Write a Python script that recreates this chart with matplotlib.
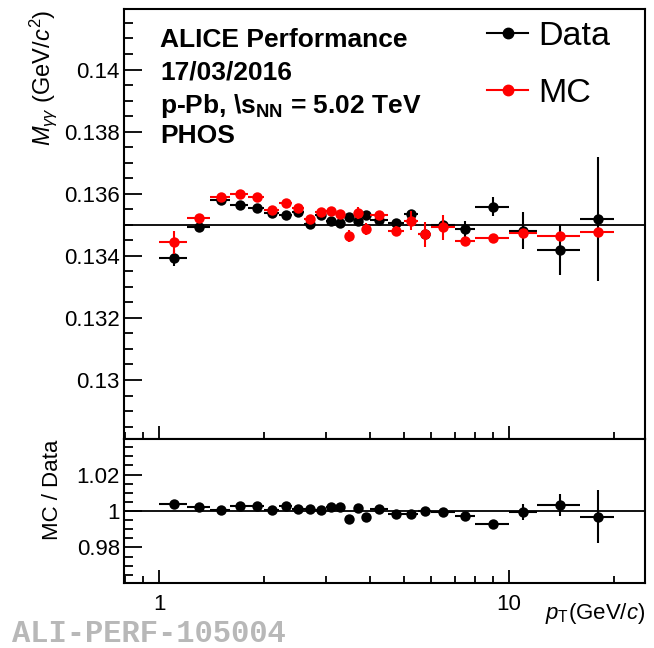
import numpy as np
import matplotlib
matplotlib.use("Agg")
import matplotlib.pyplot as plt
from matplotlib.ticker import MultipleLocator, FormatStrFormatter, LogLocator, NullFormatter, FixedLocator
from matplotlib.lines import Line2D

plt.rcParams['font.family'] = ['Liberation Sans', 'DejaVu Sans']
plt.rcParams['mathtext.fontset'] = 'custom'
plt.rcParams['mathtext.rm'] = 'Liberation Sans'
plt.rcParams['mathtext.it'] = 'Liberation Sans:italic'
plt.rcParams['mathtext.bf'] = 'Liberation Sans:bold'

# pT bins (GeV/c)
pt_lo = [1.0, 1.2, 1.4, 1.6, 1.8, 2.0, 2.2, 2.4, 2.6, 2.8, 3.0, 3.2, 3.4, 3.6, 3.8,
         4.0, 4.5, 5.0, 5.5, 6.0, 7.0, 8.0, 10.0, 12.0, 16.0]
pt_hi = [1.2, 1.4, 1.6, 1.8, 2.0, 2.2, 2.4, 2.6, 2.8, 3.0, 3.2, 3.4, 3.6, 3.8, 4.0,
         4.5, 5.0, 5.5, 6.0, 7.0, 8.0, 10.0, 12.0, 16.0, 20.0]

# peak position, data
data_val = [0.13393, 0.13494, 0.13580, 0.13565, 0.13553, 0.13539, 0.13531, 0.13540,
            0.13502, 0.13531, 0.13513, 0.13505, 0.13524, 0.13513, 0.13531, 0.13515,
            0.13505, 0.13534, 0.13469, 0.13499, 0.13486, 0.13558, 0.13481, 0.13418,
            0.13518]
data_err = [0.00027, 0.00008, 0.00005, 0.00005, 0.00005, 0.00005, 0.00005, 0.00006,
            0.00006, 0.00006, 0.00007, 0.00007, 0.00008, 0.00008, 0.00009, 0.00008,
            0.00010, 0.00012, 0.00012, 0.00012, 0.00025, 0.00030, 0.00060, 0.00080,
            0.00200]

# peak position, MC
mc_val = [0.13443, 0.13521, 0.13588, 0.13599, 0.13588, 0.13549, 0.13569, 0.13554,
          0.13517, 0.13542, 0.13545, 0.13535, 0.13464, 0.13537, 0.13486, 0.13531,
          0.13481, 0.13513, 0.13469, 0.13492, 0.13447, 0.13459, 0.13472, 0.13464,
          0.13477]
mc_err = [0.00036, 0.00012, 0.00006, 0.00006, 0.00006, 0.00006, 0.00007, 0.00007,
          0.00008, 0.00008, 0.00009, 0.00010, 0.00020, 0.00020, 0.00020, 0.00010,
          0.00015, 0.00030, 0.00040, 0.00040, 0.00010, 0.00010, 0.00010, 0.00010,
          0.00010]

lo = np.array(pt_lo)
hi = np.array(pt_hi)
pt = (lo + hi) / 2
xerr = [pt - lo, hi - pt]
d = np.array(data_val)
de = np.array(data_err)
m = np.array(mc_val)
me = np.array(mc_err)
ratio = m / d
ratio_err = ratio * de / d

fig = plt.figure(figsize=(6.54, 6.48), dpi=100)
W, H = 654, 648
ax1 = fig.add_axes([124 / W, 1 - 439 / H, (645 - 124) / W, (439 - 9) / H])
ax2 = fig.add_axes([124 / W, 1 - 583 / H, (645 - 124) / W, (583 - 439) / H])

ekw = dict(fmt='o', ms=7.5, elinewidth=1.5, capsize=0, mew=0)
for ax in (ax1, ax2):
    ax.set_xscale('log')
    ax.set_xlim(0.794, 24.5)
    for s in ax.spines.values():
        s.set_linewidth(1.5)
    ax.xaxis.set_major_locator(FixedLocator([1, 10]))
    ax.xaxis.set_minor_locator(LogLocator(base=10, subs=np.arange(2, 10)))
    ax.xaxis.set_minor_formatter(NullFormatter())
    ax.tick_params(which='both', direction='in', top=False, right=False, width=1.3,
                   labelsize=16)
    ax.tick_params(axis='x', which='major', length=9.5)
    ax.tick_params(axis='x', which='minor', length=5)
    ax.tick_params(axis='y', which='major', length=13, pad=3)
    ax.tick_params(axis='y', which='minor', length=6.5)

ax1.axhline(0.135, color='black', lw=1.3, zorder=1)
ax1.errorbar(pt, d, xerr=xerr, yerr=de, color='black', zorder=3, **ekw)
ax1.errorbar(pt, m, xerr=xerr, yerr=me, color='red', zorder=4, **ekw)
ax1.set_ylim(0.1281, 0.14195)
ax1.yaxis.set_major_locator(MultipleLocator(0.002))
ax1.yaxis.set_minor_locator(MultipleLocator(0.0005))
ax1.yaxis.set_major_formatter(FormatStrFormatter('%g'))
ax1.tick_params(axis='x', labelbottom=False)

ax2.axhline(1.0, color='black', lw=1.3, zorder=1)
ax2.errorbar(pt, ratio, xerr=xerr, yerr=ratio_err, color='black', zorder=3, **ekw)
ax2.set_ylim(0.9605, 1.0395)
ax2.yaxis.set_major_locator(MultipleLocator(0.02))
ax2.yaxis.set_minor_locator(MultipleLocator(0.005))
ax2.yaxis.set_major_formatter(FormatStrFormatter('%g'))
ax2.xaxis.set_major_formatter(FormatStrFormatter('%g'))
ax2.tick_params(axis='x', which='major', pad=8)

# labels
fig.text(43 / W, 1 - 10 / H, r'$M_{\gamma\gamma}$ (GeV/$c^{2}$)', rotation=90,
         ha='center', va='top', fontsize=17)
fig.text(53 / W, 1 - 440 / H, 'MC / Data', rotation=90, ha='center', va='top', fontsize=16)
fig.text(645 / W, 1 - 613 / H, r'$p_{\rm T}$(GeV/$c$)', ha='right', va='center', fontsize=16)

# ALICE label
tx = (160 - 124) / 521
for txt, yb in [('ALICE Performance', 47), ('17/03/2016', 80),
                (r'p-Pb, \s$_{\mathbf{NN}}$ = 5.02 TeV', 113), ('PHOS', 143)]:
    ax1.text(tx, 1 - (yb - 9) / 430, txt, transform=ax1.transAxes, fontsize=19,
             fontweight='bold', va='baseline', ha='left')

handles = [Line2D([], [], color='black', marker='o', ms=7.5, lw=1.5),
           Line2D([], [], color='red', marker='o', ms=7.5, lw=1.5)]
ax1.legend(handles, ['Data', 'MC'], loc='upper left', bbox_to_anchor=(0.697, 0.972),
           frameon=False, fontsize=24.5, handlelength=1.2, handletextpad=0.3,
           labelspacing=0.75, borderpad=0, borderaxespad=0)

fig.text(12 / W, 1 - 634 / H, 'ALI-PERF-105004', family='Liberation Mono', fontweight='bold',
         color='#b8b8b8', fontsize=22, va='center', ha='left')

fig.savefig('out.png', dpi=100)
